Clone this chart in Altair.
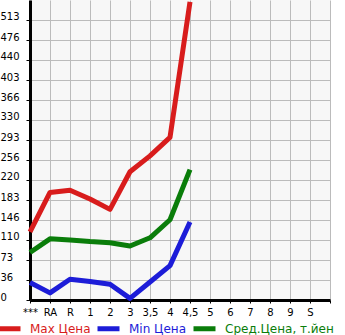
import altair as alt
import pandas as pd

categories = ["***", "RA", "R", "1", "2", "3", "3,5", "4", "4,5", "5", "6", "7", "8", "9", "S"]
max_price = [125, 197, 201, 185, 166, 235, 264, 298, 546]
min_price = [32, 13, 38, 34, 29, 3, 33, 63, 143]
avg_price = [87, 112, 110, 107, 105, 99, 114, 147, 239]
y_ticks = [0, 36, 73, 110, 146, 183, 220, 256, 293, 330, 366, 403, 440, 476, 513]
series_names = ["Max Цена", "Min Цена", "Сред.Цена, т.йен"]
series_colors = ["#d81c1c", "#1c1cd8", "#0a7d0a"]

rows = []
for name, vals in zip(series_names, [max_price, min_price, avg_price]):
    for i, v in enumerate(vals):
        rows.append({"idx": i, "price": v, "series": name})
df = pd.DataFrame(rows)

label_js = "[" + ",".join("'" + c + "'" for c in categories) + ",'']"

color_expr = (
    "datum.label == 'Max Цена' ? '#d81c1c' : "
    "(datum.label == 'Min Цена' ? '#1c1cd8' : '#0a7d0a')"
)

chart = alt.Chart(df).mark_line(strokeWidth=5, strokeJoin="round", strokeCap="butt").encode(
    x=alt.X(
        "idx:Q",
        scale=alt.Scale(domain=[0, 15], nice=False, zero=False),
        axis=alt.Axis(
            title=None,
            values=list(range(16)),
            labelExpr=label_js + "[datum.value]",
            labelFont="DejaVu Sans",
            labelFontSize=10,
            labelColor="#000000",
            labelPadding=4,
            tickSize=3,
            tickColor="#000000",
            domainColor="#000000",
            domainWidth=3,
            gridColor="#bbbbbb",
            gridWidth=1,
            labelFlush=False,
            labelOverlap=False,
        ),
    ),
    y=alt.Y(
        "price:Q",
        scale=alt.Scale(domain=[0, 549.64], nice=False),
        axis=alt.Axis(
            title=None,
            values=y_ticks,
            labelFont="DejaVu Sans",
            labelFontSize=10,
            labelColor="#000000",
            labelAlign="left",
            labelBaseline="alphabetic",
            labelPadding=26,
            tickSize=4,
            tickColor="#000000",
            domainColor="#000000",
            domainWidth=3,
            gridColor="#bbbbbb",
            gridWidth=1,
            labelOverlap=False,
            labelFlush=False,
        ),
    ),
    color=alt.Color(
        "series:N",
        scale=alt.Scale(domain=series_names, range=series_colors),
        legend=alt.Legend(
            title=None,
            orient="none",
            legendX=-34,
            legendY=315,
            direction="horizontal",
            symbolType="stroke",
            symbolSize=484,
            symbolStrokeWidth=5,
            labelFont="DejaVu Sans",
            labelFontSize=12,
            labelColor={"expr": color_expr},
            labelLimit=200,
            columnPadding=-4,
            labelOffset=7,
            padding=0,
        ),
    ),
).properties(
    width=300,
    height=300,
    background="#ffffff",
    padding={"left": 30, "top": 0, "right": 15, "bottom": 35},
    autosize=alt.AutoSizeParams(type="none"),
).configure_view(fill="#f7f7f7", stroke=None)

chart.save("out.html", embed_options={"renderer": "svg", "actions": False})
